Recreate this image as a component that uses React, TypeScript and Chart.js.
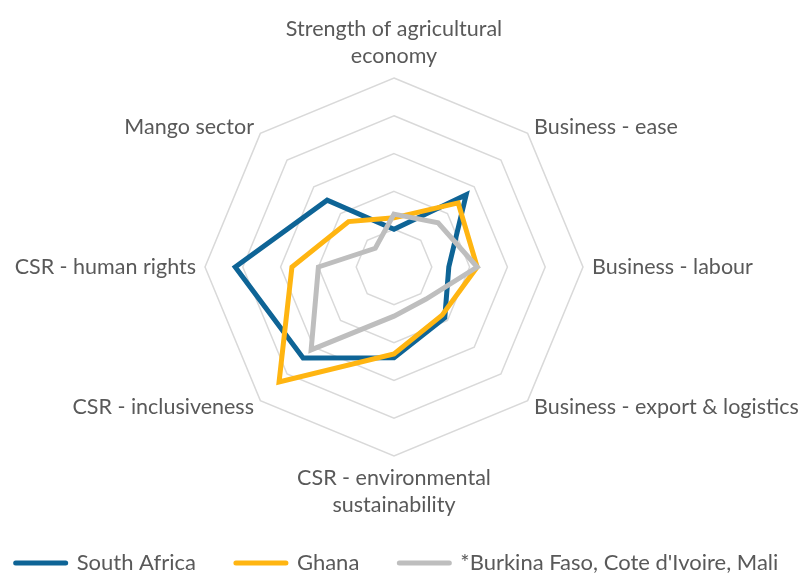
import React, { useEffect, useRef } from 'react';
import { Chart, registerables } from 'chart.js';

Chart.register(...registerables);

// ---- data ----
const categories: (string | string[])[] = [
  ['Strength of agricultural', 'economy'],
  'Business - ease',
  'Business - labour',
  'Business - export & logistics',
  ['CSR - environmental', 'sustainability'],
  'CSR - inclusiveness',
  'CSR - human rights',
  'Mango sector',
];
const seriesNames = ['South Africa', 'Ghana', "*Burkina Faso, Cote d'Ivoire, Mali"];
const southAfrica = [1.0, 2.7, 1.45, 1.9, 2.4, 3.4, 4.2, 2.5];
const ghana = [1.3, 2.4, 2.2, 1.8, 2.3, 4.3, 2.7, 1.7];
const burkinaCiMali = [1.4, 1.65, 2.2, 1.2, 1.3, 3.1, 2.0, 0.7];
const scaleMin = 0;
const scaleMax = 5;
const scaleStep = 1;

// ---- style / layout ----
const COLORS = ['#0E6496', '#FFB511', '#BEBEBE'];
const TEXT = '#595959';
const FONT = 'Lato';
const CENTER_X = 394;
const CENTER_Y = 267;
const RADIUS = 189;

function placeRadar(scale: any) {
  const items = scale._pointLabelItems;
  const dR = RADIUS - scale.drawingArea;
  const dx = CENTER_X - scale.xCenter;
  const dy = CENTER_Y - scale.yCenter;
  if (items) {
    items.forEach((it: any, i: number) => {
      const ang = scale.getIndexAngle(i);
      const a = ang - Math.PI / 2;
      let sx = dx + dR * Math.cos(a);
      let sy = dy + dR * Math.sin(a);
      const deg = Math.round((ang * 180) / Math.PI) % 360;
      const h = it.bottom - it.top;
      if ((deg > 0 && deg < 90) || deg > 270) sy += h / 2;
      else if (deg > 90 && deg < 270 && deg !== 180) sy -= h / 2;
      it.x += sx; it.left += sx; it.right += sx;
      it.y += sy; it.top += sy; it.bottom += sy;
    });
  }
  scale.xCenter = CENTER_X;
  scale.yCenter = CENTER_Y;
  scale.drawingArea = RADIUS;
}

export default function App() {
  const ref = useRef<HTMLCanvasElement | null>(null);
  useEffect(() => {
    if (!ref.current) return;
    const values = [southAfrica, ghana, burkinaCiMali];
    const chart = new Chart(ref.current, {
      type: 'radar',
      data: {
        labels: categories as any,
        datasets: values.map((d, i) => ({
          label: seriesNames[i],
          data: d,
          borderColor: COLORS[i],
          backgroundColor: 'rgba(0,0,0,0)',
          borderWidth: 5,
          borderJoinStyle: 'miter' as const,
          pointRadius: 0,
          pointHoverRadius: 0,
          fill: false,
          tension: 0,
          order: 2 - i,
        })),
      },
      options: {
        animation: false,
        responsive: true,
        maintainAspectRatio: false,
        layout: { padding: { left: -40, right: -31, top: 0, bottom: -10 } },
        plugins: {
          tooltip: { enabled: false },
          legend: {
            position: 'bottom',
            align: 'center',
            labels: {
              color: TEXT,
              font: { family: FONT, size: 22 },
              usePointStyle: true,
              pointStyleWidth: 50,
              padding: 40,
              generateLabels: (c: any) =>
                c.data.datasets.map((ds: any, i: number) => ({
                  text: ds.label,
                  fillStyle: ds.borderColor,
                  strokeStyle: ds.borderColor,
                  lineWidth: 5,
                  lineCap: 'round',
                  pointStyle: 'line',
                  hidden: false,
                  datasetIndex: i,
                  fontColor: TEXT,
                })),
            },
          },
        },
        scales: {
          r: {
            min: scaleMin,
            max: scaleMax,
            ticks: { stepSize: scaleStep, display: false },
            grid: { color: '#D9D9D9', lineWidth: 1.5 },
            angleLines: { display: false },
            pointLabels: {
              color: TEXT,
              font: { family: FONT, size: 21.5, lineHeight: 1.25 },
              padding: 9,
            },
            afterFit: placeRadar,
          } as any,
        },
      },
    });
    return () => chart.destroy();
  }, []);
  return (
    <div style={{ position: 'fixed', left: 0, top: 0, width: 803, height: 574, background: '#fff' }}>
      <canvas ref={ref} />
    </div>
  );
}
